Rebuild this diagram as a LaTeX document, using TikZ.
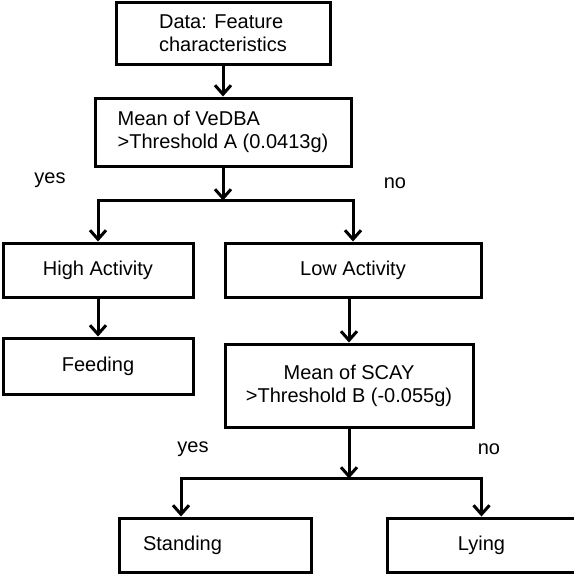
\documentclass[tikz,border=0pt]{standalone}
\usepackage{fontspec}
\setmainfont{Liberation Sans}
\usetikzlibrary{arrows.meta,positioning,calc}

\begin{document}
\begin{tikzpicture}[
    x=0.5pt, y=-0.5pt,
    every node/.style={font=\fontsize{10}{11.5}\selectfont},
    box/.style={draw, line width=1.5pt, align=left, inner sep=2pt},
    arr/.style={-{Straight Barb[length=4.5pt, width=8pt]}, line width=1.5pt}
  ]
    \useasboundingbox (0,0) rectangle (574,574);

    \node[box, minimum width=107pt, minimum height=31pt] (data) at (223,33) {Data: Feature\\characteristics};
    \node[box, minimum width=128pt, minimum height=34pt, below=15.5pt of data] (meanA) {Mean of VeDBA\\>Threshold A (0.0413g)};
    \node[box, minimum width=95pt, minimum height=27pt] (high) at (98,270) {High Activity};
    \node[box, minimum width=128pt, minimum height=27pt, right=14.5pt of high] (low) {Low Activity};
    \node[box, minimum width=95pt, minimum height=28pt, below=19pt of high] (feeding) {Feeding};
    \node[box, align=center, minimum width=124pt, minimum height=41.5pt, below right=22pt and 0pt of low.south west] (meanB) {Mean of SCAY\\>Threshold B (-0.055g)};
    \node[box, text width=72pt, inner xsep=12pt, minimum height=27pt] (standing) at (215,545) {Standing};
    \node[box, minimum width=94.5pt, minimum height=27pt, right=36.5pt of standing] (lying) {Lying};

    \coordinate (splitA) at ($(meanA.south)+(0,-16.5pt)$);
    \coordinate (splitB) at ($(meanB.south)+(0,-25pt)$);

    \node (yesA) at (50,180) {yes};
    \node (noA) at (395,183) {no};
    \node (yesB) at (193,449) {yes};
    \node (noB) at (489,449) {no};

    \draw[arr] (data) -- (meanA);
    \draw[arr] (meanA) -- (splitA);
    \draw[arr] (splitA) -| (high);
    \draw[arr] (splitA) -| (low);
    \draw[arr] (high) -- (feeding);
    \draw[arr] (low.south -| meanB.north) -- (meanB);
    \draw[arr] (meanB) -- (splitB);
    \draw[arr] (splitB) -| ([xshift=-17pt]standing.north);
    \draw[arr] (splitB) -| (lying);
  \end{tikzpicture}
\end{document}
